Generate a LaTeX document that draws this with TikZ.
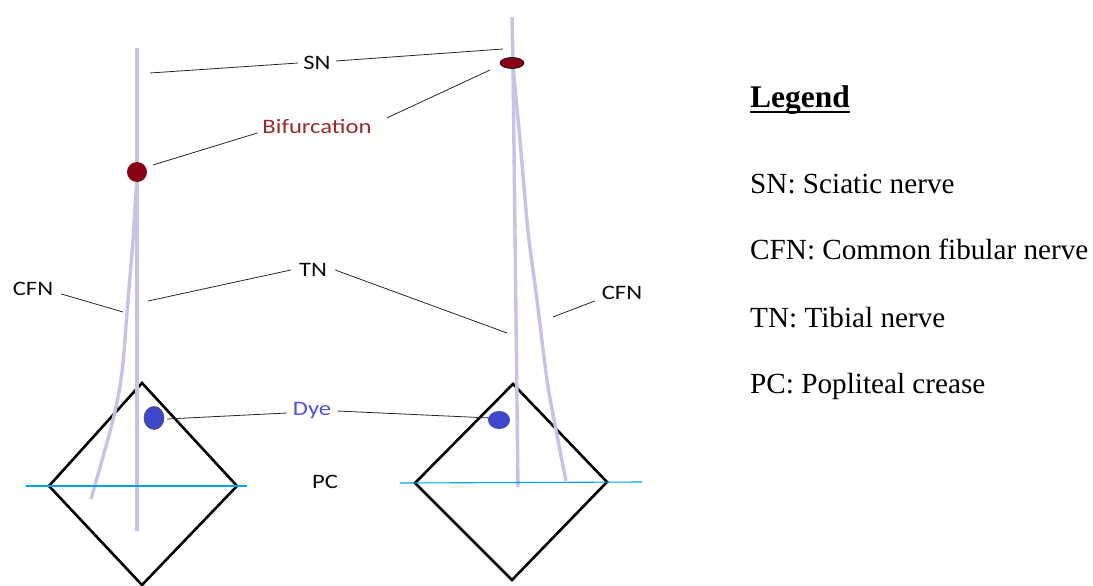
\documentclass[tikz,border=0pt]{standalone}
\usepackage{fontspec}
\usetikzlibrary{shapes.geometric}
\setmainfont{Liberation Serif}
\newfontfamily\labfont{Carlito}
\definecolor{nerve}{RGB}{200,193,232}
\definecolor{bifdot}{RGB}{136,0,21}
\definecolor{biftext}{RGB}{155,40,48}
\definecolor{dyedot}{RGB}{63,72,204}
\definecolor{dyetext}{RGB}{80,80,230}
\definecolor{crease}{RGB}{0,162,232}
\begin{document}
\begin{tikzpicture}[x=1pt,y=-1pt,
  nervepath/.style={draw=nerve,line width=3.4pt,line cap=butt},
  kneebox/.style={draw=black,line width=2.6pt,line join=miter},
  creaseline/.style={draw=crease,line width=1.1pt},
  leader/.style={draw=black!85,line width=0.8pt},
  lbl/.style={font=\labfont\fontsize{20.5}{24}\selectfont,inner sep=0pt,text=black!95},
  legtext/.style={font=\fontsize{29.2}{34}\selectfont,inner sep=0pt,anchor=base west}]
\useasboundingbox (0,0) rectangle (1093,586);

% knee outlines
\draw[kneebox] (142,383) -- (237,486) -- (142,585) -- (49,486) -- cycle;
\draw[kneebox] (513,384) -- (607,482) -- (512,580) -- (415,483) -- cycle;

% left leg: sciatic nerve dividing high
\draw[nervepath] (137,48) -- (137,531);
\draw[nervepath] plot[smooth] coordinates {(137,176) (133,240) (128,300) (122,372) (113,420) (91,499)};

% right leg: sciatic nerve dividing low
\draw[nervepath] (512,17) -- (513,63) -- (518,487);
\draw[nervepath] plot[smooth] coordinates {(513,66) (520,140) (526,210) (529,240) (537,300) (547,380) (556,430) (566,481)};

% popliteal creases
\draw[creaseline] (26,486) -- (247,486);
\draw[creaseline] (400,483) -- (642,482);

% bifurcation points and dye spots
\node[circle,fill=bifdot,inner sep=0pt,minimum size=20pt] (bifL) at (137,172) {};
\node[ellipse,fill=bifdot,draw=black,line width=0.6pt,inner sep=0pt,minimum width=24pt,minimum height=11pt] (bifR) at (512,63) {};
\node[ellipse,fill=dyedot,draw=black!70,line width=0.6pt,inner sep=0pt,minimum width=20pt,minimum height=23pt] (dyeL) at (154,418) {};
\node[ellipse,fill=dyedot,inner sep=0pt,minimum width=22pt,minimum height=18pt] (dyeR) at (499,420) {};

% labels
\node[lbl] (sn) at (317,63) {\scalebox{1.2}[1]{SN}};
\node[lbl,text=biftext] (bif) at (317,126) {\scalebox{1.2}[1]{Bifurcation}};
\node[lbl] (tn) at (313,270) {\scalebox{1.2}[1]{TN}};
\node[lbl] (cfnL) at (33,289) {\scalebox{1.2}[1]{CFN}};
\node[lbl] (cfnR) at (622,293) {\scalebox{1.2}[1]{CFN}};
\node[lbl,text=dyetext] (dye) at (312,411) {\scalebox{1.2}[1]{Dye}};
\node[lbl] (pc) at (325,482) {\scalebox{1.2}[1]{PC}};

% leader end points on the nerves
\coordinate (snL) at (150,73);
\coordinate (snR) at (503,49);
\coordinate (bifLend) at (153,165);
\coordinate (bifRend) at (490,70);
\coordinate (tnL) at (148,301);
\coordinate (tnR) at (507,333);
\coordinate (cfnLend) at (123,312);
\coordinate (cfnRend) at (553,317);
\coordinate (dyeLend) at (167,419);
\coordinate (dyeRend) at (490,418);

% leader lines
\draw[leader] (snL) -- ([xshift=-5pt]sn.west);
\draw[leader] ([xshift=5pt,yshift=2pt]sn.east) -- (snR);
\draw[leader] (bifLend) -- ([shift={(-5,7)}]bif.west);
\draw[leader] ([shift={(15,-8)}]bif.east) -- (bifRend);
\draw[leader] (tnL) -- ([xshift=-8pt]tn.west);
\draw[leader] ([xshift=8pt]tn.east) -- (tnR);
\draw[leader] ([shift={(8,5)}]cfnL.east) -- (cfnLend);
\draw[leader] ([shift={(-7,8)}]cfnR.west) -- (cfnRend);
\draw[leader] (dyeLend) -- ([shift={(-6,2)}]dye.west);
\draw[leader] ([xshift=6pt]dye.east) -- (dyeRend);

% legend
\node[font=\bfseries\fontsize{31.5}{36}\selectfont,inner sep=0pt,anchor=base west] (leg) at (750,107) {Legend};
\draw[line width=1.8pt] ([yshift=-5pt]leg.base west) -- ([yshift=-5pt]leg.base east);
\node[legtext] (l1) at (750,193) {SN: Sciatic nerve};
\node[legtext] (l2) at (750,259) {CFN: Common fibular nerve};
\node[legtext] (l3) at (750,327) {TN: Tibial nerve};
\node[legtext] (l4) at (750,393) {PC: Popliteal crease};
\end{tikzpicture}
\end{document}
